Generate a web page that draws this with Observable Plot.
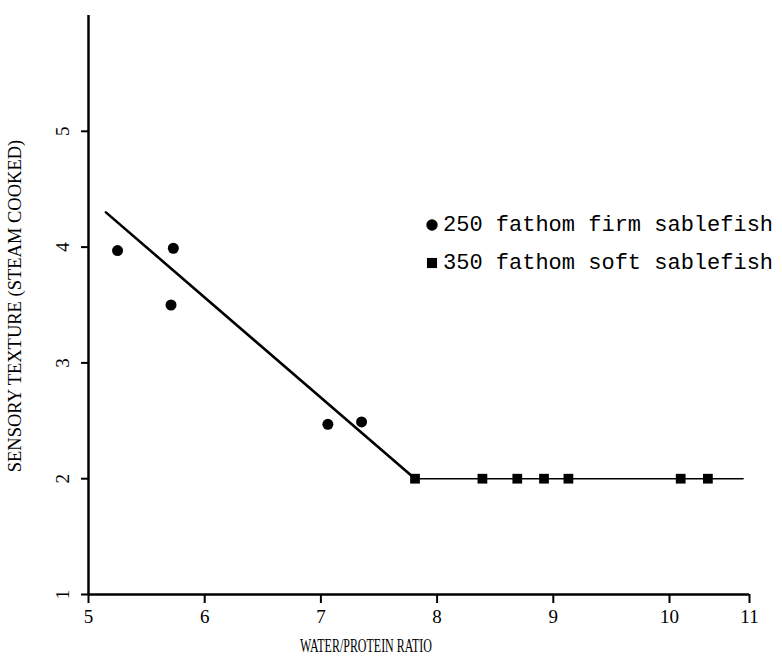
<!DOCTYPE html>
<html><head><meta charset="utf-8">
<script src="https://cdn.jsdelivr.net/npm/d3@7"></script>
<script src="https://cdn.jsdelivr.net/npm/@observablehq/plot@0.6"></script>
<style>
body{margin:0;background:#fff;}
#wrap{position:relative;width:782px;height:668px;overflow:hidden;}
#legend{position:absolute;left:425px;top:206px;font-family:"Liberation Mono",monospace;font-size:22px;color:#000;white-space:nowrap;}
#legend .row{height:38px;display:flex;align-items:center;}
#legend svg{width:14px;height:14px;margin-right:4px;}
</style></head><body><div id="wrap"><div id="legend"></div></div>
<script>
// data
const firmRatio = [5.25, 5.73, 5.71, 7.06, 7.35];
const firmTexture = [3.97, 3.99, 3.50, 2.47, 2.49];
const softRatio = [7.81, 8.39, 8.69, 8.92, 9.13, 10.14, 10.48];
const softTexture = [2.0, 2.0, 2.0, 2.0, 2.0, 2.0, 2.0];
const fitRatio = [5.15, 7.81];
const fitTexture = [4.30, 2.0];
const plateauRatio = [7.81, 10.92];
const plateauTexture = [2.0, 2.0];
const xTicks = [5, 6, 7, 8, 9, 10, 11];
const yTicks = [1, 2, 3, 4, 5];
const xLabel = "WATER/PROTEIN RATIO";
const yLabel = "SENSORY TEXTURE (STEAM COOKED)";
const legendLabels = ["250 fathom firm sablefish", "350 fathom soft sablefish"];
const legendSymbols = ["circle", "square"];

const firm = firmRatio.map((x, i) => ({x, y: firmTexture[i]}));
const soft = softRatio.map((x, i) => ({x, y: softTexture[i]}));
const fit = fitRatio.map((x, i) => ({x, y: fitTexture[i]}));
const plateau = plateauRatio.map((x, i) => ({x, y: plateauTexture[i]}));

const serif = "'Liberation Serif', serif";

const chart = Plot.plot({
  width: 782, height: 668,
  marginLeft: 88, marginRight: 33, marginTop: 17, marginBottom: 74,
  style: {fontFamily: serif, background: "#fff", color: "#000"},
  x: {type: "linear", domain: [5, 10, 11], range: [88, 669, 749]},
  y: {type: "linear", domain: [1, 6], range: [594, 15]},
  marks: [
    Plot.axisX({ticks: xTicks, tickSize: 9, tickPadding: 6, tickFormat: d => String(d), fontSize: 19, strokeWidth: 2, label: null}),
    Plot.axisY({ticks: yTicks, tickSize: 7, tickPadding: 13, tickRotate: -90, tickFormat: d => String(d), fontSize: 19, strokeWidth: 2, label: null}),
    Plot.ruleX([5], {y1: 1, y2: 6, strokeWidth: 2.5}),
    Plot.ruleY([1], {strokeWidth: 2.5}),
    Plot.line(fit, {x: "x", y: "y", strokeWidth: 2.6, stroke: "#000"}),
    Plot.line(plateau, {x: "x", y: "y", strokeWidth: 1.6, stroke: "#000"}),
    Plot.dot(firm, {x: "x", y: "y", r: 5.5, fill: "#000", symbol: "circle"}),
    Plot.dot(soft, {x: "x", y: "y", r: 5.5, fill: "#000", symbol: "square"}),
    Plot.text([xLabel], {text: d => d, frameAnchor: "bottom", textAnchor: "middle", dx: -53, dy: 57, fontSize: 19, fontFamily: serif, className: "xlab"}),
    Plot.text([yLabel], {text: d => d, frameAnchor: "left", textAnchor: "middle", dx: -73, rotate: -90, fontSize: 18.5, fontFamily: serif, className: "ylab"})
  ]
});
document.getElementById("wrap").prepend(chart);

d3.select(chart).selectAll(".xlab text").attr("textLength", 132).attr("lengthAdjust", "spacingAndGlyphs");

const legend = d3.select("#legend");
legendLabels.forEach((label, i) => {
  const row = legend.append("div").attr("class", "row");
  const s = row.append("svg").attr("viewBox", "-7 -7 14 14");
  s.append("path").attr("d", d3.symbol(legendSymbols[i] === "circle" ? d3.symbolCircle : d3.symbolSquare, 5.7 * 5.7 * Math.PI)()).attr("fill", "#000");
  row.append("span").text(label);
});
</script>
</body></html>
